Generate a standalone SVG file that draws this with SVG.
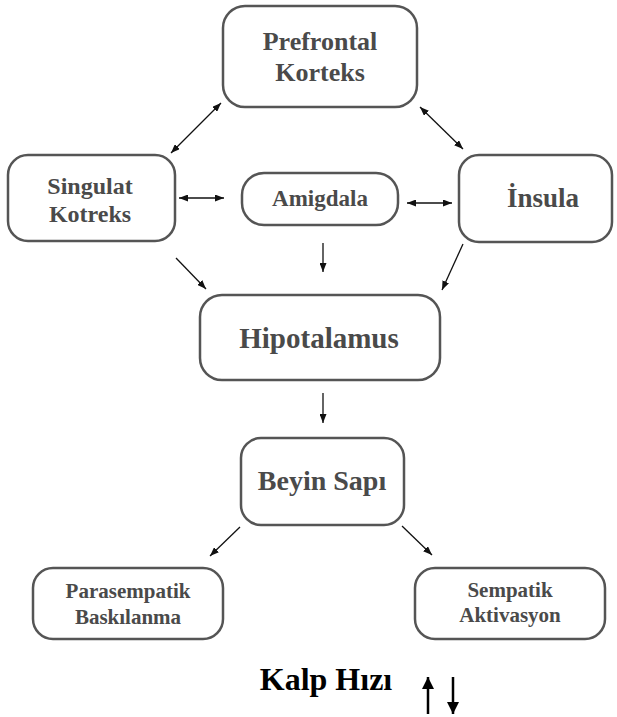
<svg xmlns="http://www.w3.org/2000/svg" width="617" height="717" viewBox="0 0 617 717">
<defs>
<marker id="ah" viewBox="0 0 9 7" refX="9" refY="3.5" markerWidth="9" markerHeight="7" markerUnits="userSpaceOnUse" orient="auto-start-reverse">
<path d="M0,0 L9,3.5 L0,7 z" fill="#111"/>
</marker>
<marker id="big" viewBox="0 0 12 13" refX="12" refY="6" markerWidth="12" markerHeight="13" markerUnits="userSpaceOnUse" orient="auto">
<path d="M0,0 L12,6 L0,12 z" fill="#000"/>
</marker>
</defs>
<style>
.box{fill:#fff;stroke:#555;stroke-width:2.5}
.lbl{font-family:"Liberation Serif","Times New Roman",serif;font-weight:bold;fill:#4a4a4a;text-anchor:middle}
.c{stroke:#111;stroke-width:1.3;fill:none}
</style>
<rect width="617" height="717" fill="#fff"/>
<g id="prefrontal"><rect class="box" x="223" y="6" width="194" height="101" rx="22"/>
<text class="lbl" x="320" y="50" font-size="26">Prefrontal</text><text class="lbl" x="320" y="81" font-size="26">Korteks</text></g>
<g id="singulat"><rect class="box" x="8" y="155" width="167" height="86" rx="20"/>
<text class="lbl" x="90" y="194" font-size="24">Singulat</text><text class="lbl" x="90" y="222" font-size="24">Kotreks</text></g>
<g id="amigdala"><rect class="box" x="242" y="173" width="156" height="52" rx="22"/>
<text class="lbl" x="320" y="206" font-size="23">Amigdala</text></g>
<g id="insula"><rect class="box" x="459" y="155" width="153" height="87" rx="20"/>
<text class="lbl" x="543" y="207" font-size="27">İnsula</text></g>
<g id="hipotalamus"><rect class="box" x="200" y="295" width="240" height="85" rx="22"/>
<text class="lbl" x="319" y="348" font-size="29">Hipotalamus</text></g>
<g id="beyin"><rect class="box" x="241" y="438" width="163" height="87" rx="20"/>
<text class="lbl" x="322" y="490" font-size="28">Beyin Sapı</text></g>
<g id="parasempatik"><rect class="box" x="33" y="568" width="190" height="71" rx="20"/>
<text class="lbl" x="128" y="598" font-size="21">Parasempatik</text><text class="lbl" x="128" y="624" font-size="21">Baskılanma</text></g>
<g id="sempatik"><rect class="box" x="415" y="568" width="190" height="71" rx="20"/>
<text class="lbl" x="510" y="597" font-size="21">Sempatik</text><text class="lbl" x="510" y="622" font-size="21">Aktivasyon</text></g>
<g id="kalp"><text x="326" y="690" font-size="32" font-family="Liberation Serif, Times New Roman, serif" font-weight="bold" fill="#000" text-anchor="middle">Kalp Hızı</text></g>
<g id="connectors">
<line class="c" x1="221" y1="103" x2="171" y2="153" marker-start="url(#ah)" marker-end="url(#ah)"/>
<line class="c" x1="420" y1="107" x2="463" y2="149" marker-start="url(#ah)" marker-end="url(#ah)"/>
<line class="c" x1="179" y1="198" x2="224" y2="198" marker-start="url(#ah)" marker-end="url(#ah)"/>
<line class="c" x1="407" y1="203" x2="452" y2="203" marker-start="url(#ah)" marker-end="url(#ah)"/>
<line class="c" x1="176" y1="258" x2="206" y2="289" marker-end="url(#ah)"/>
<line class="c" x1="323" y1="243" x2="323" y2="272" marker-end="url(#ah)"/>
<line class="c" x1="463" y1="244" x2="442" y2="290" marker-end="url(#ah)"/>
<line class="c" x1="323" y1="393" x2="323" y2="423" marker-end="url(#ah)"/>
<line class="c" x1="240" y1="527" x2="210" y2="556" marker-end="url(#ah)"/>
<line class="c" x1="402" y1="526" x2="432" y2="555" marker-end="url(#ah)"/>
<line stroke="#000" stroke-width="2.5" x1="428" y1="714" x2="428" y2="677" marker-end="url(#big)"/>
<line stroke="#000" stroke-width="2.5" x1="453" y1="677" x2="453" y2="714" marker-end="url(#big)"/>
</g>
</svg>
